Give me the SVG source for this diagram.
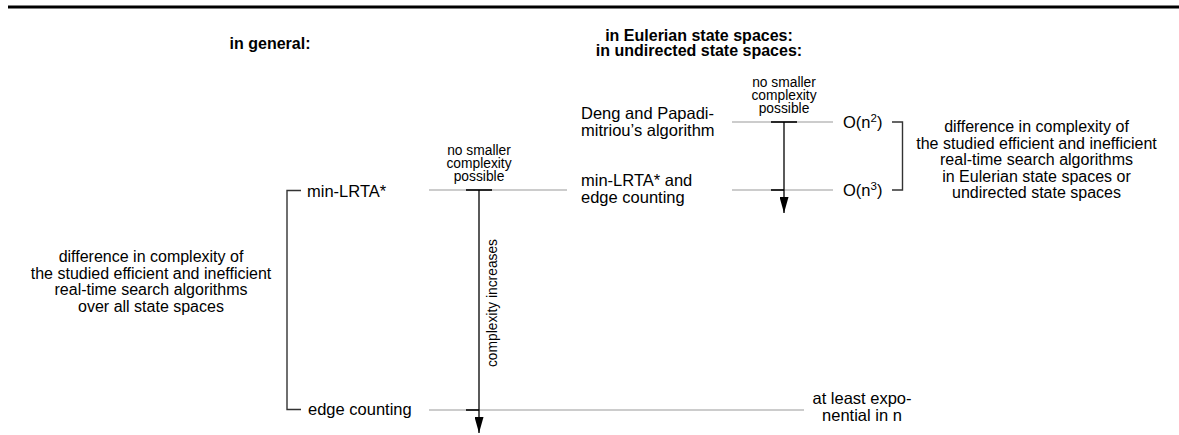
<svg xmlns="http://www.w3.org/2000/svg" width="1179" height="435" viewBox="0 0 1179 435">
<style>
text{font-family:"Liberation Sans",Arial,Helvetica,sans-serif;fill:#000}
.t{font-size:16.5px}
.p{font-size:16px}
.s{font-size:13.8px}
.h{font-size:16px;font-weight:bold}
.c{text-anchor:middle}
.g{stroke:#999;stroke-width:1.2;fill:none}
.b{stroke:#333;stroke-width:1.4;fill:none}
.k{stroke:#000;stroke-width:1.6;fill:none}
.a{stroke:#000;stroke-width:1.3;fill:none}
</style>
<defs>
<marker id="ah" markerWidth="16" markerHeight="9" refX="16" refY="4.5" orient="auto" markerUnits="userSpaceOnUse">
<path d="M0,0 L16,4.5 L0,9 z" fill="#000"/>
</marker>
</defs>
<rect x="0" y="0" width="1179" height="435" fill="#fff"/>
<line x1="8" y1="7" x2="1179" y2="7" stroke="#000" stroke-width="3"/>
<g id="headers">
<text class="h c" x="270" y="49">in general:</text>
<text class="h c" x="699" y="41">in Eulerian state spaces:</text>
<text class="h c" x="699" y="56">in undirected state spaces:</text>
</g>
<g id="connectors">
<line class="g" x1="429" y1="190" x2="567" y2="190"/>
<line class="g" x1="429" y1="410" x2="804" y2="410"/>
<line class="g" x1="732" y1="122" x2="833" y2="122"/>
<line class="g" x1="732" y1="190" x2="833" y2="190"/>
<line class="k" x1="466" y1="190" x2="492" y2="190"/>
<line class="k" x1="466" y1="410" x2="479" y2="410"/>
<line class="k" x1="771" y1="122" x2="797" y2="122"/>
<line class="k" x1="771" y1="190" x2="784" y2="190"/>
<line class="a" x1="479" y1="190" x2="479" y2="433" marker-end="url(#ah)"/>
<line class="a" x1="784" y1="122" x2="784" y2="213" marker-end="url(#ah)"/>
<path class="b" d="M301,190.5 H287 V409.5 H301"/>
<path class="b" d="M892,122 H902.5 V190 H892"/>
</g>
<g id="node-minlrta-general">
<text class="t" x="307" y="197">min-LRTA*</text>
</g>
<g id="node-edge-general">
<text class="t" x="308" y="415">edge counting</text>
</g>
<g id="node-diff-general">
<text class="p c" x="151" y="262">difference  in complexity of</text>
<text class="p c" x="151" y="278.5">the studied efficient and inefficient</text>
<text class="p c" x="151" y="295">real-time search algorithms</text>
<text class="p c" x="151" y="311.5">over all state spaces</text>
</g>
<g id="node-nosmaller-left">
<text class="s c" x="479" y="155">no smaller</text>
<text class="s c" x="479" y="168">complexity</text>
<text class="s c" x="479" y="181">possible</text>
</g>
<g id="node-increases">
<text class="s c" transform="translate(497,303) rotate(-90)">complexity increases</text>
</g>
<g id="node-deng">
<text class="t" x="581" y="119">Deng and Papadi-</text>
<text class="t" x="581" y="136">mitriou’s algorithm</text>
</g>
<g id="node-minlrta-edge">
<text class="t" x="581" y="186">min-LRTA* and</text>
<text class="t" x="581" y="203">edge counting</text>
</g>
<g id="node-nosmaller-right">
<text class="s c" x="784" y="87">no smaller</text>
<text class="s c" x="784" y="100">complexity</text>
<text class="s c" x="784" y="113">possible</text>
</g>
<g id="node-on2">
<text class="t" x="843" y="128">O(n<tspan font-size="11.5" dy="-6.5">2</tspan><tspan dy="6.5">)</tspan></text>
</g>
<g id="node-on3">
<text class="t" x="843" y="196">O(n<tspan font-size="11.5" dy="-6.5">3</tspan><tspan dy="6.5">)</tspan></text>
</g>
<g id="node-diff-eulerian">
<text class="p c" x="1036.5" y="132">difference  in complexity of</text>
<text class="p c" x="1036.5" y="148.5">the studied efficient and inefficient</text>
<text class="p c" x="1036.5" y="165">real-time search algorithms</text>
<text class="p c" x="1036.5" y="181.5">in Eulerian state spaces or</text>
<text class="p c" x="1036.5" y="198">undirected state spaces</text>
</g>
<g id="node-exponential">
<text class="t c" x="862" y="404">at least expo-</text>
<text class="t c" x="862" y="421">nential in n</text>
</g>
</svg>
